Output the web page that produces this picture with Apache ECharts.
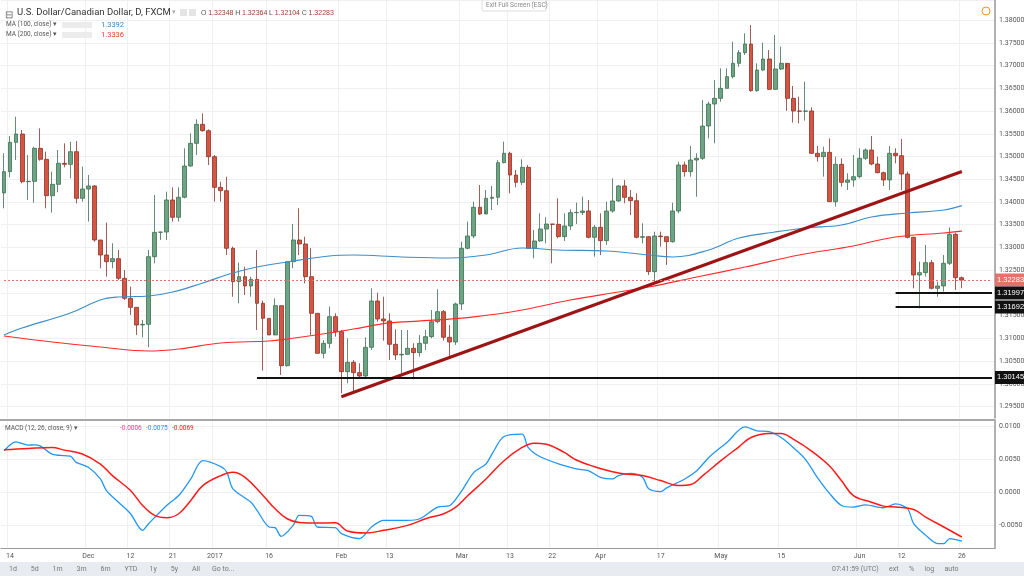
<!DOCTYPE html>
<html><head><meta charset="utf-8">
<script src="https://cdn.jsdelivr.net/npm/echarts@6/dist/echarts.min.js"></script>
<style>html,body{margin:0;padding:0;background:#fff}#c{width:1024px;height:576px}</style>
</head><body><div id="c"></div>
<script>
const firstOpen = 1.3420;
const closes = [1.34667,1.35311,1.35495,1.34447,1.34454,1.35180,1.34938,1.34139,1.34388,1.34850,
1.34828,1.35106,1.34081,1.34286,1.34352,1.33165,1.32835,1.32689,1.32755,1.32322,
1.31883,1.31685,1.31297,1.31311,1.32798,1.33333,1.33340,1.34044,1.33663,1.34103,
1.34791,1.35289,1.35707,1.35568,1.34996,1.34322,1.34249,1.32982,1.32249,1.32359,
1.32154,1.32300,1.31773,1.31443,1.31077,1.31722,1.30403,1.32689,1.33165,1.33077,
1.32359,1.31553,1.30674,1.30894,1.31480,1.31150,1.30271,1.30476,1.30249,1.30176,
1.30806,1.31824,1.31429,1.31385,1.30872,1.30638,1.30652,1.30784,1.30689,1.30894,
1.31040,1.31370,1.31590,1.31026,1.30923,1.31758,1.32982,1.33253,1.33883,1.33736,
1.34081,1.34103,1.34865,1.35070,1.34593,1.34432,1.34762,1.32982,1.33143,1.33406,
1.33516,1.33509,1.33238,1.33473,1.33766,1.33770,1.33802,1.33224,1.33443,1.33150,
1.33802,1.34022,1.34352,1.34103,1.34029,1.33224,1.33238,1.32469,1.33253,1.33238,
1.33128,1.33802,1.34813,1.34667,1.34923,1.34960,1.35670,1.36154,1.36278,1.36498,
1.36755,1.37048,1.37282,1.37473,1.36447,1.36901,1.37143,1.36476,1.36923,1.37048,
1.36278,1.36000,1.35995,1.36000,1.35070,1.34996,1.35092,1.34007,1.34828,1.34432,
1.34484,1.34557,1.34960,1.35143,1.34835,1.34645,1.34484,1.35070,1.35018,1.34615,
1.33223,1.32396,1.32447,1.32667,1.32103,1.32154,1.32652,1.33289,1.32337,1.32283];
const highs = [1.35070,1.35451,1.35875,1.35583,1.35033,1.35216,1.35619,1.35106,1.34667,1.35143,
1.35289,1.35326,1.35341,1.34777,1.34594,1.34374,1.33165,1.33546,1.33092,1.32945,
1.32505,1.32139,1.31685,1.31407,1.32945,1.34154,1.33348,1.34227,1.34322,1.34322,
1.35180,1.35509,1.35817,1.35949,1.35597,1.35033,1.34447,1.34557,1.33018,1.32667,
1.32579,1.32359,1.32945,1.31832,1.31443,1.31883,1.31722,1.32689,1.33517,1.33861,
1.33238,1.32982,1.31553,1.30967,1.31700,1.31553,1.31187,1.31004,1.30528,1.30454,
1.31026,1.32103,1.32007,1.31919,1.31553,1.31202,1.31187,1.31187,1.30894,1.31077,
1.31187,1.31626,1.32081,1.31626,1.31297,1.31788,1.33128,1.33568,1.34007,1.34374,
1.34264,1.34352,1.34923,1.35326,1.35106,1.34703,1.34938,1.34813,1.33385,1.33751,
1.33663,1.33516,1.34081,1.33751,1.33839,1.33985,1.34117,1.34044,1.33495,1.33751,
1.34007,1.34520,1.34374,1.34484,1.34264,1.34191,1.33531,1.33253,1.33348,1.33348,
1.33238,1.33985,1.34886,1.34886,1.35231,1.35070,1.36242,1.36205,1.36681,1.36938,
1.36938,1.37524,1.37341,1.37707,1.37890,1.37048,1.37502,1.37341,1.37670,1.37414,
1.36938,1.36549,1.36315,1.36645,1.36081,1.35231,1.35216,1.35399,1.34996,1.34960,
1.34630,1.35033,1.35179,1.35179,1.35451,1.34996,1.34667,1.35231,1.35179,1.35385,
1.34667,1.33238,1.32689,1.33055,1.32725,1.32249,1.32835,1.33443,1.33326,1.32364];
const lows = [1.33861,1.34542,1.34923,1.34410,1.34044,1.33985,1.34908,1.33861,1.33766,1.34213,
1.34762,1.34520,1.33971,1.34007,1.33568,1.33128,1.32542,1.32359,1.32542,1.32286,
1.31846,1.31517,1.31077,1.31026,1.30806,1.32652,1.33165,1.33165,1.33568,1.33568,
1.34081,1.34777,1.35033,1.35546,1.34813,1.34007,1.34007,1.32835,1.31919,1.31773,
1.31956,1.31919,1.31187,1.30293,1.31077,1.31187,1.30198,1.30381,1.32542,1.32835,
1.32212,1.31077,1.30674,1.30564,1.30784,1.31040,1.29795,1.30015,1.29832,1.30125,
1.30125,1.30747,1.31370,1.30952,1.30528,1.30528,1.30235,1.30638,1.30103,1.30601,
1.30747,1.31004,1.31333,1.30952,1.30564,1.30857,1.31626,1.32960,1.33202,1.33714,
1.33824,1.33824,1.33934,1.34850,1.34190,1.34322,1.34374,1.32982,1.32762,1.33128,
1.33092,1.32652,1.33202,1.33143,1.33385,1.33516,1.33714,1.33202,1.32799,1.32835,
1.33055,1.33766,1.34007,1.33971,1.33714,1.33202,1.33092,1.32396,1.32249,1.33018,
1.32615,1.33106,1.33751,1.34557,1.34557,1.34117,1.34923,1.35399,1.35289,1.36205,
1.36498,1.36718,1.36974,1.37231,1.36425,1.36425,1.36886,1.36462,1.36462,1.36901,
1.36007,1.35744,1.35729,1.35788,1.35055,1.34886,1.34557,1.34007,1.33897,1.34337,
1.34264,1.34337,1.34520,1.34923,1.34806,1.34630,1.34352,1.34264,1.34850,1.34264,
1.33201,1.32103,1.31663,1.32359,1.32081,1.31919,1.32029,1.32615,1.32066,1.32104];
const ma100 = [[0,1.31077],[3,1.31231],[11,1.31560],[16,1.31846],[19,1.31912],[24,1.31934],[28,1.32022],[33,1.32220],[38,1.32440],[42,1.32571],[47,1.32681],[54,1.32813],[58,1.32835],[66,1.32791],[74,1.32769],[80,1.32835],[86,1.32989],[92,1.32945],[100,1.32923],[107,1.32835],[111,1.32791],[117,1.32945],[122,1.33209],[128,1.33341],[133,1.33429],[139,1.33495],[144,1.33670],[150,1.33758],[156,1.33824],[159,1.33920]];
const ma200 = [[0,1.31055],[8,1.30923],[16,1.30813],[24,1.30725],[29,1.30769],[36,1.30901],[44,1.30945],[47,1.30989],[54,1.31121],[58,1.31209],[64,1.31341],[72,1.31407],[78,1.31473],[86,1.31626],[94,1.31846],[102,1.32022],[107,1.32132],[115,1.32352],[123,1.32571],[132,1.32835],[140,1.33011],[148,1.33231],[156,1.33319],[159,1.33360]];
const macdLine = [[0,0.00631],[2,0.00768],[4,0.00717],[5,0.00722],[6,0.00707],[8,0.00581],[10,0.00556],[11,0.00551],[12,0.00455],[14,0.00379],[16,0.00202],[17,0.00025],[19,-0.00152],[21,-0.00328],[23,-0.00581],[24,-0.00480],[27,-0.00202],[29,-0.00051],[31,0.00202],[33,0.00480],[36,0.00389],[37,0.00303],[38,0.00051],[41,-0.00152],[42,-0.00278],[44,-0.00530],[45,-0.00540],[46,-0.00672],[48,-0.00505],[49,-0.00354],[51,-0.00369],[52,-0.00530],[55,-0.00540],[56,-0.00631],[59,-0.00707],[61,-0.00530],[63,-0.00429],[67,-0.00429],[69,-0.00404],[72,-0.00227],[74,-0.00202],[76,0.00025],[78,0.00303],[80,0.00429],[81,0.00581],[83,0.00848],[86,0.00884],[87,0.00682],[89,0.00540],[93,0.00404],[95,0.00354],[97,0.00328],[99,0.00227],[101,0.00202],[102,0.00253],[104,0.00288],[106,0.00227],[107,0.00051],[109,0.00010],[110,0.00066],[113,0.00202],[115,0.00328],[117,0.00530],[120,0.00758],[123,0.00995],[125,0.00934],[127,0.00924],[129,0.00833],[131,0.00682],[133,0.00505],[135,0.00227],[137,-0.00015],[139,-0.00202],[141,-0.00227],[143,-0.00192],[146,-0.00237],[148,-0.00177],[150,-0.00253],[151,-0.00480],[153,-0.00657],[155,-0.00783],[156,-0.00783],[157,-0.00707],[159,-0.00747]];
const signalLine = [[0,0.00646],[4,0.00667],[8,0.00682],[10,0.00641],[13,0.00581],[16,0.00429],[18,0.00253],[21,0.00025],[23,-0.00202],[25,-0.00354],[27,-0.00389],[29,-0.00328],[31,-0.00126],[33,0.00101],[36,0.00253],[38,0.00303],[40,0.00227],[43,-0.00051],[45,-0.00253],[47,-0.00404],[49,-0.00460],[52,-0.00470],[55,-0.00465],[57,-0.00591],[60,-0.00621],[63,-0.00581],[67,-0.00505],[70,-0.00404],[73,-0.00328],[75,-0.00227],[77,-0.00051],[80,0.00202],[83,0.00480],[86,0.00682],[88,0.00747],[90,0.00732],[93,0.00606],[95,0.00490],[98,0.00389],[101,0.00313],[103,0.00278],[106,0.00253],[109,0.00177],[112,0.00101],[114,0.00116],[116,0.00253],[119,0.00480],[122,0.00692],[124,0.00833],[127,0.00894],[129,0.00894],[131,0.00808],[134,0.00631],[137,0.00404],[139,0.00177],[141,-0.00051],[144,-0.00152],[146,-0.00212],[148,-0.00227],[151,-0.00263],[153,-0.00379],[156,-0.00530],[159,-0.00682]];
const trendLine = [[56,1.29720],[159,1.34670]];
const supportLevels = [{v:1.30145,from:42},{v:1.31997,from:148},{v:1.31692,from:148}];
const lastPrice = 1.32283;
const dateLabels = {'2016-11-14':'14','2016-12-01':'Dec','2016-12-12':'12','2016-12-21':'21','2017-01-03':'2017','2017-01-16':'16','2017-02-01':'Feb','2017-02-13':'13','2017-03-01':'Mar','2017-03-13':'13','2017-03-22':'22','2017-04-03':'Apr','2017-04-17':'17','2017-05-01':'May','2017-05-15':'15','2017-06-01':'Jun','2017-06-12':'12','2017-06-26':'26'};
const skipDays = ['2016-12-26','2017-01-02'];

const cats = [];
{
  let d = Date.UTC(2016,10,11);
  const end = Date.UTC(2017,6,3);
  while (d <= end) {
    const dt = new Date(d);
    const wd = dt.getUTCDay();
    const s = dt.toISOString().slice(0,10);
    if (wd !== 0 && wd !== 6 && skipDays.indexOf(s) < 0) cats.push(s);
    d += 86400000;
  }
}
const ohlc = closes.map((c,i)=>[i===0?firstOpen:closes[i-1], c, lows[i], highs[i]]);
const isLbl = (i,v)=> !!dateLabels[v];
const grey = '#eef0f3';
const T = 'rgba(0,0,0,0)';
const near = (v,step)=>Math.abs(Math.round(v/step)*step - v) < 1e-7;
const lastEnd = cats.length - 1;

const chart = echarts.init(document.getElementById('c'));
const txt = (x,y,t,color,size)=>({type:'text',x:x,y:y,z:50,style:{text:t,fill:color,fontSize:size,fontFamily:'Roboto, Arial, sans-serif'}});
const boxLabel = (t,bg)=>({show:true,position:'end',distance:3,formatter:t,color:'#fff',backgroundColor:bg,padding:[3,2,2,2],fontSize:7.5});
const series = [
  {type:'candlestick', xAxisIndex:0, yAxisIndex:0, data:ohlc, barWidth:'72%',
   itemStyle:{color:'#6ba583',color0:'#d75442',borderColor:'#3f6e52',borderColor0:'#8a3328',borderWidth:0.8}},
  {type:'line', xAxisIndex:0, yAxisIndex:0, data:ma100, connectNulls:true, smooth:0.4, symbol:'none', lineStyle:{color:'#3d8ec9',width:1.2}, z:3,
   markLine:{symbol:'none',silent:true,animation:false,
     data:[[{coord:[0,lastPrice]},{coord:[lastEnd,lastPrice]}]],
     lineStyle:{color:'#e3736a',type:[2,2],width:1},label:boxLabel('1.32283','#e3736a')}},
  {type:'line', xAxisIndex:0, yAxisIndex:0, data:ma200, connectNulls:true, smooth:0.4, symbol:'none', lineStyle:{color:'#ff2a2a',width:1.2}, z:3,
   markLine:{symbol:'none',silent:true,animation:false,
     data:supportLevels.map(s=>[{coord:[s.from,s.v],label:boxLabel(s.v.toFixed(5),'#111')},{coord:[lastEnd,s.v]}]),
     lineStyle:{color:'#111',type:'solid',width:2}}},
  {type:'line', xAxisIndex:0, yAxisIndex:0, data:trendLine, symbol:'none', lineStyle:{color:'#9c1414',width:3}, z:4},
  {type:'line', xAxisIndex:1, yAxisIndex:1, data:macdLine, connectNulls:true, smooth:0.3, symbol:'none', lineStyle:{color:'#2196f3',width:1.3}},
  {type:'line', xAxisIndex:1, yAxisIndex:1, data:signalLine, connectNulls:true, smooth:0.4, symbol:'none', lineStyle:{color:'#ff1a1a',width:1.5}}
];

const ylab = {fontSize:7,color:'#555',fontFamily:'Roboto, Arial, sans-serif',margin:4};
chart.setOption({
  animation:false,
  backgroundColor:'#fff',
  grid:[{left:1,right:29,top:0,height:418.1,outerBoundsMode:'none'},{left:1,right:29,top:420,height:128,outerBoundsMode:'none'}],
  xAxis:[
    {type:'category',gridIndex:0,data:cats,boundaryGap:true,axisLine:{show:false},axisTick:{show:false},axisLabel:{show:false},splitLine:{show:true,interval:isLbl,lineStyle:{color:grey}}},
    {type:'category',gridIndex:1,data:cats,boundaryGap:true,axisLine:{show:true,onZero:false,lineStyle:{color:'#9a9a9a',width:1}},axisTick:{show:false},
     axisLabel:{show:true,interval:0,formatter:v=>dateLabels[v]||'',fontSize:7,color:'#555',margin:5,fontFamily:'Roboto, Arial, sans-serif'},
     splitLine:{show:true,interval:isLbl,lineStyle:{color:grey}}}
  ],
  yAxis:[
    {type:'value',gridIndex:0,position:'right',min:1.2925,max:1.3844,interval:0.0025,
     axisLine:{show:true,lineStyle:{color:'#9a9a9a',width:1.5}},axisTick:{show:false},
     axisLabel:Object.assign({},ylab,{formatter:v=>near(v,0.005)?v.toFixed(5):''}),
     splitLine:{show:true,lineStyle:{color:[T,grey]}}},
    {type:'value',gridIndex:1,position:'right',min:-0.0085,max:0.011,interval:0.0005,
     axisLine:{show:true,lineStyle:{color:'#9a9a9a',width:1.5}},axisTick:{show:false},
     axisLabel:Object.assign({},ylab,{formatter:v=>near(v,0.005)?v.toFixed(4):''}),
     splitLine:{show:true,lineStyle:{color:[T,T,T,T,T,T,T,grey,T,T]}}}
  ],
  graphic:[
    {type:'line',z:40,shape:{x1:0,y1:420,x2:995,y2:420},style:{stroke:'#a8a8a8',lineWidth:2}},
    {type:'rect',z:40,shape:{x:0,y:562,width:1024,height:14},style:{fill:'#e8ecf0'}},
    txt(5,10,'⊟','#666',10),
    txt(17,8,'U.S. Dollar/Canadian Dollar, D, FXCM','#333',9.5),
    txt(172,9,'▾','#aaa',7),
    {type:'rect',z:50,shape:{x:180,y:9,width:7,height:7},style:{fill:'#e4e4e4'}},
    {type:'rect',z:50,shape:{x:189,y:9,width:7,height:7},style:{fill:'#e4e4e4'}},
    {type:'text',x:201,y:10,z:50,style:{text:'{l|O} {v|1.32348} {l|H} {v|1.32364} {l|L} {v|1.32104} {l|C} {v|1.32283}',fontSize:7,fontFamily:'Roboto, Arial, sans-serif',
      rich:{l:{fill:'#555',fontSize:7},v:{fill:'#a33a30',fontSize:7}}}},
    txt(6,21,'MA (100, close) ▾','#555',6.5), txt(101,21,'1.3392','#2f86c7',7.5),
    txt(6,31,'MA (200, close) ▾','#555',6.5), txt(101,31,'1.3336','#f33',7.5),
    {type:'rect',z:50,shape:{x:62,y:22,width:30,height:6},style:{fill:'#ececec'}},
    {type:'rect',z:50,shape:{x:62,y:32,width:30,height:6},style:{fill:'#ececec'}},
    {type:'rect',z:50,shape:{x:482,y:0,width:64,height:11,r:1},style:{fill:'#fff',stroke:'#ddd'}},
    txt(486,2,'Exit Full Screen (ESC)','#888',6.5),
    {type:'circle',z:50,shape:{cx:986,cy:11,r:4},style:{fill:'none',stroke:'#f7941d',lineWidth:1}},
    txt(5,425,'MACD (12, 26, close, 9) ▾','#555',6.5),
    txt(120,425,'-0.0006','#ff3d8b',6.5), txt(146,425,'-0.0075','#2196f3',6.5), txt(172,425,'-0.0069','#ff1a1a',6.5),
    txt(9,566,'1d        5d        1m        3m        6m        YTD       1y        5y        All       Go to...','#777',7),
    txt(832,566,'07:41:59 (UTC)      ext      %      log      auto','#777',7)
  ],
  series:series
});
</script></body></html>
